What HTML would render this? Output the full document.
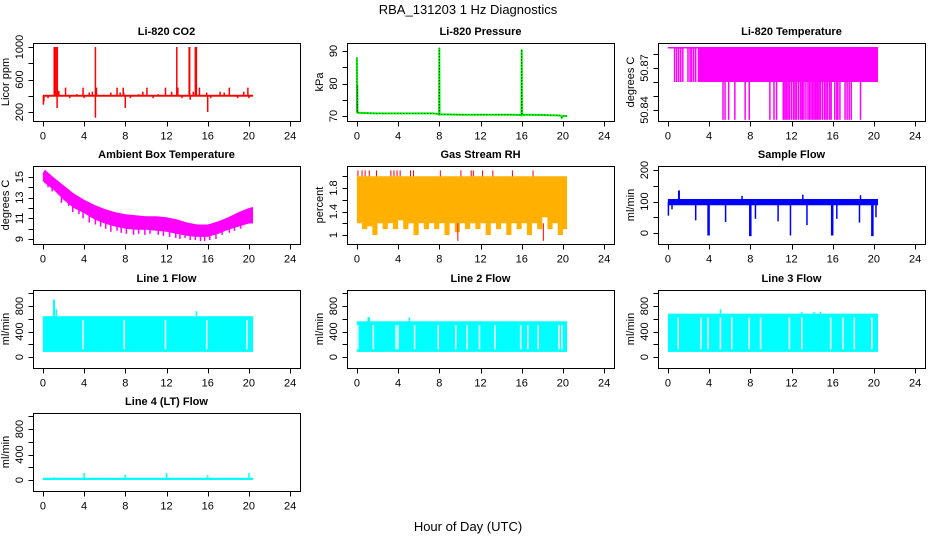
<!DOCTYPE html>
<html><head><meta charset="utf-8"><title>RBA_131203 1 Hz Diagnostics</title>
<style>
html,body{margin:0;padding:0;background:#fff;}
svg{display:block;font-family:"Liberation Sans",sans-serif;}
</style></head>
<body>
<svg id="chart" xmlns="http://www.w3.org/2000/svg" width="936" height="540" viewBox="0 0 936 540">
<text x="468" y="14" text-anchor="middle" font-size="13">RBA_131203  1 Hz Diagnostics</text>
<text x="468" y="531" text-anchor="middle" font-size="13">Hour of Day (UTC)</text>
</svg>
<script>
// ---- data ----
const xTicks = [0,4,8,12,16,20,24];
// CO2
const co2Base = 400;
const co2End = 20.4;
const co2SpikeT = [0.05,0.1,0.5,1.1,1.15,1.2,1.35,1.38,1.4,1.45,1.55,2.2,2.6,3.3,3.9,4.0,4.5,4.8,5.1,5.1,5.2,5.9,6.6,7.2,7.5,7.8,7.85,8.0,8.5,9.3,9.7,10.1,10.7,11.2,11.9,12.5,13.0,13.1,13.5,14.2,14.25,14.3,14.6,14.8,14.9,15.2,15.9,16.0,16.3,17.2,17.6,18.1,18.9,19.5,19.9,20.0];
const co2SpikeV = [290,330,370,1000,1000,1000,1000,250,1000,450,460,500,370,420,500,370,440,450,1000,130,500,410,440,500,440,500,440,250,370,420,450,500,370,420,500,450,1000,500,370,1000,1000,350,450,1000,1000,500,440,200,370,450,440,500,370,450,500,370];
// Pressure
const pressT = [0,0.02,0.04,0.06,0.08,1,2,4,6,7.4,7.9,7.98,8.0,8.03,8.4,10,12,14,15,15.9,15.97,16.0,16.03,16.5,18,19.5,19.8,19.9,20.0,20.4];
const pressV = [88,71,79.5,72,71,70.9,70.8,70.8,70.8,70.8,70.6,70.5,91,70.5,70.5,70.4,70.4,70.4,70.4,70.3,70.2,90.5,70.3,70.4,70.3,70.2,70.1,69.5,70,70];
// Li-820 temperature
const tempTop = 50.885, tempMid = 50.86, tempLow = 50.833;
const tempBandStart = 2.9, tempBandEnd = 20.4, tempLineStart = 0;
const tempEarlyT = [0.65,0.85,1.05,1.25,1.45,1.95,2.15,2.3,2.5,2.7];
const tempLowT = [5.35,5.55,5.9,6.5,7.5,7.9,9.9,10.3,10.55,11.2,11.35,11.5,11.65,11.8,12.0,12.2,12.35,12.5,12.7,12.9,13.05,13.2,13.4,13.6,13.75,13.9,14.05,14.2,14.35,14.5,14.65,14.8,15.0,15.2,15.35,15.5,15.7,15.85,16.2,16.4,16.5,16.7,17.2,17.4,17.6,17.8,18.7];
// Ambient box temperature
const ambT = [0,0.2,1,2,3,4,5,6,7,8,9,10,11,12,13,14,15,16,17,18,19,20,20.4];
const ambHi = [15.4,15.7,15.0,14.2,13.4,12.8,12.3,11.9,11.6,11.4,11.3,11.2,11.2,11.1,10.9,10.6,10.4,10.4,10.7,11.1,11.6,12.0,12.1];
const ambLo = [14.6,14.4,13.8,12.8,12.0,11.5,10.9,10.5,10.2,10.0,9.9,9.9,9.8,9.7,9.5,9.3,9.2,9.2,9.5,9.9,10.2,10.5,10.5];
const ambSpikeT = [0.5,0.9,1.5,1.8,2.5,2.9,3.5,3.9,4.5,5.1,5.6,6.1,6.6,7.2,7.6,8.1,8.8,9.3,9.9,10.4,11.2,11.7,12.3,12.9,13.3,13.8,14.3,14.8,15.3,15.7,16.2,16.8,17.4,18.1,18.6,19.2];
const ambSpikeV = [14.0,13.6,13.3,12.5,12.2,11.6,11.4,11.0,10.6,10.4,10.2,10.0,9.7,9.8,9.6,9.5,9.4,9.5,9.4,9.5,9.4,9.3,9.2,9.1,9.0,9.1,8.9,8.9,8.8,8.8,8.9,9.0,9.4,9.6,9.8,10.0];
// Gas stream RH
const rhTop = 2.0;
const rhLo = [1.2,1.1,1.15,1.0,1.2,1.1,1.2,1.1,1.25,1.1,1.2,1.0,1.2,1.1,1.2,1.1,1.2,1.0,1.2,1.05,1.2,1.1,1.2,1.1,1.2,1.0,1.2,1.1,1.2,1.0,1.2,1.1,1.2,1.0,1.2,1.1,1.3,1.1,1.2,1.0,1.1];
const rhUpT = [0.1,0.5,0.8,1.2,1.9,3.3,3.6,3.9,4.2,5.2,5.5,8.1,10.1,11.1,11.3,12.2,13.2,15.1,17.1];
const rhDownT = [9.8,18.1];
const rhDownV = [0.9,0.9];
// Sample flow
const sfLo = 88, sfHi = 108, sfEnd = 20.4;
const sfSpikeT = [1.05,1.1,7.2,13.1,18.7,0.05,0.4,2.7,3.9,4.0,5.6,7.95,8.05,8.5,10.7,11.9,13.5,15.9,16.0,16.4,18.6,19.8,19.9,20.2];
const sfSpikeV = [135,135,118,122,120,55,75,40,-8,-8,35,-10,-10,45,37,-8,25,-8,-8,45,33,-10,-10,50];
// Line flows
const l1Lo = 80, l1Hi = 640, l1End = 20.4;
const l1GapT = [3.9,7.9,11.9,15.9,19.8];
const l1UpT = [1.05,1.1,1.3,14.9];
const l1UpV = [900,900,750,720];
const l2Lo = 80, l2Hi = 560, l2End = 20.4;
const l2GapT = [0.1,1.6,3.8,4.0,5.6,7.9,9.6,10.7,11.9,13.4,15.9,16.6,17.6,19.6,19.9];
const l2UpT = [1.1,1.2,5.1];
const l2UpV = [630,620,620];
const l3Lo = 80, l3Hi = 680, l3End = 20.4;
const l3GapT = [1.0,3.2,3.9,5.1,6.2,7.9,9.0,11.8,13.0,15.8,17.0,18.1,19.8];
const l3UpT = [5.1,13.0,14.2,14.8];
const l3UpV = [750,710,710,710];
const l4Lo = 0, l4Hi = 35, l4End = 20.4;
const l4UpT = [1.1,4.0,8.0,12.0,13.0,16.0,20.0];
const l4UpV = [45,110,80,110,35,75,110];

// ---- drawing ----
const NS = "http://www.w3.org/2000/svg";
const svg = document.getElementById('chart');
const colX = [33,347,658], rowY = [43,166,290,413], PW = 267, PH = 78;
function mk(tag, attrs, name, parent){
  const el = document.createElementNS(NS, tag);
  for (const k in attrs) el.setAttribute(k, attrs[k]);
  
  
  parent.appendChild(el);
  return el;
}
let pid = 0;
function panel(col,row,title,ylab,map,ticks,labels,slug){
  const L = colX[col], T = rowY[row];
  const x = t => L + (t+0.96)/25.92*PW;
  const y = v => map[1] + (v-map[0])*(map[3]-map[1])/(map[2]-map[0]);
  const g = mk('g', {}, slug+'-panel', svg);
  pid++;
  const cp = mk('clipPath', {id:'cp'+pid}, slug+'-clip', g);
  mk('rect', {x:L, y:T, width:PW, height:PH}, slug+'-clip-rect', cp);
  const dg = mk('g', {'clip-path':'url(#cp'+pid+')'}, slug+'-series', g);
  mk('rect', {x:L+0.5, y:T+0.5, width:PW, height:PH, fill:'none', stroke:'#000'}, slug+'-frame', g);
  mk('text', {x:L+PW/2, y:T-8, 'text-anchor':'middle', 'font-size':11, 'font-weight':'bold'}, slug+'-title', g).textContent = title;
  const xb = T+PH+0.5;
  mk('line', {x1:x(0), x2:x(24), y1:xb, y2:xb, stroke:'#000'}, slug+'-x-axis', g);
  xTicks.forEach(t => {
    mk('line', {x1:Math.round(x(t))+0.5, x2:Math.round(x(t))+0.5, y1:xb, y2:xb+5, stroke:'#000'}, slug+'-x-tick', g);
    mk('text', {x:x(t), y:xb+18, 'text-anchor':'middle', 'font-size':11}, slug+'-x-tick-label', g).textContent = t;
  });
  const yl = L+0.5;
  mk('line', {x1:yl, x2:yl, y1:y(ticks[0]), y2:y(ticks[ticks.length-1]), stroke:'#000'}, slug+'-y-axis', g);
  ticks.forEach(v => {
    mk('line', {x1:yl-5, x2:yl, y1:Math.round(y(v))+0.5, y2:Math.round(y(v))+0.5, stroke:'#000'}, slug+'-y-tick', g);
  });
  labels.forEach(v => {
    const tx = L-10, ty = y(v);
    mk('text', {x:tx, y:ty, 'text-anchor':'middle', 'font-size':11, transform:'rotate(-90 '+tx+' '+ty+')'}, slug+'-y-tick-label', g).textContent = v;
  });
  const ax = L-24, ay = T+PH/2;
  mk('text', {x:ax, y:ay, 'text-anchor':'middle', 'font-size':11, transform:'rotate(-90 '+ax+' '+ay+')'}, slug+'-y-axis-title', g).textContent = ylab;
  return {x, y, g:dg};
}
function vline(p, t, v1, v2, color, w, name){
  mk('line', {x1:p.x(t), x2:p.x(t), y1:p.y(v1), y2:p.y(v2), stroke:color, 'stroke-width':w}, name, p.g);
}
function band(p, t1, t2, lo, hi, fill, name){
  const yA = p.y(hi), yB = p.y(lo);
  mk('rect', {x:p.x(t1), y:Math.min(yA,yB), width:p.x(t2)-p.x(t1), height:Math.max(1.5,Math.abs(yB-yA)), fill:fill}, name, p.g);
}

// CO2
let p = panel(0,0,'Li-820 CO2','Licor ppm',[200,112,1000,47],[200,400,600,800,1000],[200,600,1000],'co2');
band(p, 0, co2End, co2Base-12, co2Base+12, '#ff0000', 'co2-baseline');
co2SpikeT.forEach((t,i) => vline(p, t, co2Base, co2SpikeV[i], '#ff0000', 1.5, 'co2-spike'));

// Pressure
p = panel(1,0,'Li-820 Pressure','kPa',[70,116,90,51],[70,75,80,85,90],[70,80,90],'pressure');
mk('polyline', {points: pressT.map((t,i)=>p.x(t)+','+p.y(pressV[i])).join(' '), fill:'none', stroke:'#00ff00', 'stroke-width':2}, 'pressure-line', p.g);
mk('polyline', {points: pressT.map((t,i)=>p.x(t)+','+p.y(pressV[i])).join(' '), fill:'none', stroke:'#000', 'stroke-width':0.8, 'stroke-dasharray':'1 2'}, 'pressure-dotted-line', p.g);

// Li-820 Temperature
p = panel(2,0,'Li-820 Temperature','degrees C',[50.84,110,50.87,68],[50.84,50.85,50.86,50.87,50.88],[50.84,50.87],'li820-temp');
band(p, tempLineStart, tempBandEnd, tempTop-0.0008, tempTop, '#ff00ff', 'temp-top-line');
tempEarlyT.forEach(t => vline(p, t, tempMid, tempTop, '#ff00ff', 1.5, 'temp-early-line'));
band(p, tempBandStart, tempBandEnd, tempMid, tempTop, '#ff00ff', 'temp-band');
tempLowT.forEach(t => vline(p, t, tempLow, tempMid, '#ff00ff', 1.5, 'temp-low-spike'));

// Ambient
p = panel(0,1,'Ambient Box Temperature','degrees C',[9,239,15,177],[9,10,11,12,13,14,15],[9,11,13,15],'ambient');
{
  const pts = ambT.map((t,i)=>p.x(t)+','+p.y(ambHi[i])).concat(ambT.slice().reverse().map((t,i)=>p.x(t)+','+p.y(ambLo[ambT.length-1-i])));
  mk('polygon', {points: pts.join(' '), fill:'#ff00ff'}, 'ambient-band', p.g);
  ambSpikeT.forEach((t,i) => vline(p, t, ambSpikeV[i]+1.2, ambSpikeV[i], '#ff00ff', 1.5, 'ambient-spike'));
}

// RH
p = panel(1,1,'Gas Stream RH','percent',[1.0,235,1.8,188],[1.0,1.2,1.4,1.6,1.8,2.0],[1.0,1.4,1.8],'rh');
{
  let pts = [p.x(0)+','+p.y(rhTop), p.x(20.4)+','+p.y(rhTop)];
  for (let i = rhLo.length-1; i >= 0; i--) {
    const t1 = Math.min(20.4, i*0.5+0.5), t0 = i*0.5;
    pts.push(p.x(t1)+','+p.y(rhLo[i]));
    pts.push(p.x(t0)+','+p.y(rhLo[i]));
  }
  mk('polygon', {points: pts.join(' '), fill:'#ffb000'}, 'rh-band', p.g);
  rhUpT.forEach(t => vline(p, t, rhTop, 2.1, '#ff0000', 1, 'rh-up-spike'));
  rhDownT.forEach((t,i) => vline(p, t, 1.2, rhDownV[i], '#ff0000', 1, 'rh-down-spike'));
}

// Sample flow
p = panel(2,1,'Sample Flow','ml/min',[0,233,200,170],[0,50,100,150,200],[0,100,200],'sample-flow');
band(p, 0, sfEnd, sfLo, sfHi, '#0000ff', 'sample-flow-band');
sfSpikeT.forEach((t,i) => vline(p, t, 98, sfSpikeV[i], '#0000ff', 1.5, 'sample-flow-spike'));

// Line flows
function lineFlow(col,row,title,slug,map,lo,hi,end,gaps,upT,upV){
  const q = panel(col,row,title,'ml/min',map,[0,200,400,600,800,1000],[0,400,800],slug);
  band(q, 0, end, lo, hi, '#00ffff', slug+'-band');
  gaps.forEach(t => vline(q, t, lo+40, hi-60, '#ffffff', 1.5, slug+'-gap'));
  upT.forEach((t,i) => vline(q, t, hi, upV[i], '#00ffff', 1.5, slug+'-spike'));
}
lineFlow(0,2,'Line 1 Flow','line1-flow',[0,357,800,306],l1Lo,l1Hi,l1End,l1GapT,l1UpT,l1UpV);
lineFlow(1,2,'Line 2 Flow','line2-flow',[0,357,800,306],l2Lo,l2Hi,l2End,l2GapT,l2UpT,l2UpV);
lineFlow(2,2,'Line 3 Flow','line3-flow',[0,357,800,306],l3Lo,l3Hi,l3End,l3GapT,l3UpT,l3UpV);
lineFlow(0,3,'Line 4 (LT) Flow','line4-flow',[0,480,800,429],l4Lo,l4Hi,l4End,[],l4UpT,l4UpV);
</script>
</body></html>
